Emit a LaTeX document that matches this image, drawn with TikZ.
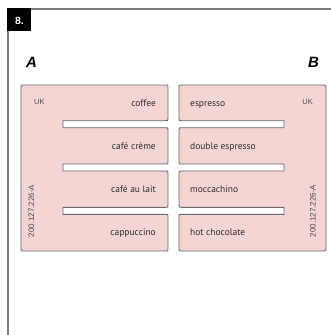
\documentclass[tikz,border=0pt]{standalone}
\usepackage{fontspec}
\setmainfont{Liberation Sans}
\newfontfamily\menufont{PT Sans}
\definecolor{cardpink}{HTML}{F5D4D4}
\definecolor{cardline}{HTML}{6A6A6A}
\definecolor{framegray}{HTML}{7A7A7A}
\definecolor{menutext}{HTML}{2E2E2E}
\def\cardoutline{(21,87.5) .. controls (21,85) .. (23.5,85) -- (165.5,85) .. controls (168,85) .. (168,87.5)
  -- (168,118.2) .. controls (168,120.7) .. (165.5,120.7) -- (63,120.7) -- (63,127.7) -- (165.5,127.7) .. controls (168,127.7) .. (168,130.2)
  -- (168,161.5) .. controls (168,164) .. (165.5,164) -- (63,164) -- (63,171) -- (165.5,171) .. controls (168,171) .. (168,173.5)
  -- (168,204.8) .. controls (168,207.3) .. (165.5,207.3) -- (63,207.3) -- (63,214.3) -- (165.5,214.3) .. controls (168,214.3) .. (168,216.8)
  -- (168,248.5) .. controls (168,251) .. (165.5,251) -- (23.5,251) .. controls (21,251) .. (21,248.5) -- cycle}
\begin{document}
\begin{tikzpicture}[x=1bp,y=-1bp,
  card/.style={draw=cardline,fill=cardpink,line width=0.9bp,line join=miter},
  menu/.style={font=\menufont\fontsize{9.5}{10}\selectfont,text=menutext,inner sep=0pt},
  small/.style={font=\fontsize{7.5}{8}\selectfont,text=black!70,inner sep=0pt},
  code/.style={font=\fontsize{8}{9}\selectfont,text=black!70,inner sep=0pt,rotate=90},
  letter/.style={font=\fontsize{15}{16}\selectfont\bfseries\itshape,inner sep=0pt}]
\useasboundingbox (0,0) rectangle (331,335);
% frame
\draw[framegray,line width=1.2bp] (8,335) -- (8,9) -- (331,9);
\fill[black] (7.4,8.4) rectangle (31,31);
\node[font=\fontsize{10.5}{11}\selectfont\bfseries,text=white,inner sep=0pt] (num) at (19.5,20.5) {8.};
% letters
\node[letter,anchor=base west] (A) at (26,67) {A};
\node[letter,anchor=base east] (B) at (319,67) {B};
% card A
\draw[card] \cardoutline;
% card B (mirror image)
\begin{scope}[xshift=347bp,xscale=-1]
\draw[card] \cardoutline;
\end{scope}
% texts A
\node[small,anchor=west] (ukA) at (34,102) {UK};
\node[menu,anchor=base east] (a1) at (156,106) {coffee};
\node[menu,anchor=base east] (a2) at (156,149) {café crème};
\node[menu,anchor=base east] (a3) at (156,192.4) {café au lait};
\node[menu,anchor=base east] (a4) at (156,235.9) {cappuccino};
\node[code] (codeA) at (31.5,211) {200.127.226-A};
% texts B
\node[small,anchor=east] (ukB) at (313,102) {UK};
\node[menu,anchor=base west] (b1) at (190,106) {espresso};
\node[menu,anchor=base west] (b2) at (190,149) {double espresso};
\node[menu,anchor=base west] (b3) at (190,192.4) {moccachino};
\node[menu,anchor=base west] (b4) at (190,235.9) {hot chocolate};
\node[code] (codeB) at (313,211) {200.127.226-A};
\end{tikzpicture}
\end{document}
